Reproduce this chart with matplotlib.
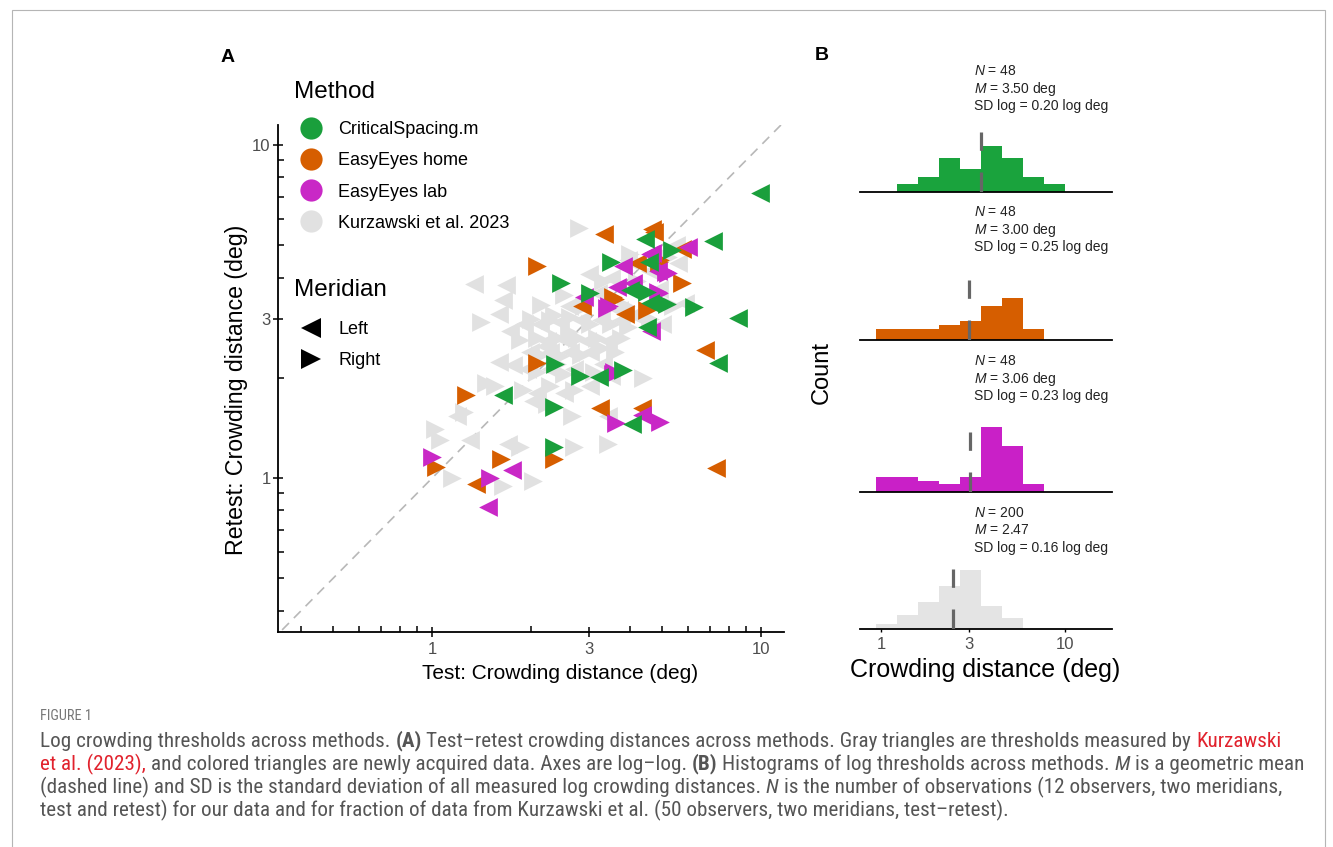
import numpy as np
import matplotlib
matplotlib.use("Agg")
import matplotlib.pyplot as plt
from matplotlib import font_manager
from matplotlib.lines import Line2D
from matplotlib.patches import Rectangle
from matplotlib.ticker import FixedLocator, NullFormatter, FixedFormatter

# ----------------------------------------------------------------- data
methods = ["CriticalSpacing.m", "EasyEyes home", "EasyEyes lab", "Kurzawski et al. 2023"]
method_colors = ["#1a9f3c", "#d65e00", "#c928c6", "#e1e1e1"]
meridians = ["Left", "Right"]

# CriticalSpacing.m : test, retest, meridian
cs_test = [9.90, 7.13, 4.45, 5.37, 3.51, 4.56, 2.47, 3.02, 3.99, 4.50, 5.17, 6.27,
           8.50, 4.50, 7.40, 2.37, 3.80, 2.81, 3.22, 1.64, 2.34, 4.05, 2.34, 4.60]
cs_retest = [7.20, 5.17, 5.23, 4.86, 4.47, 4.45, 3.85, 3.60, 3.68, 3.62, 3.34, 3.27,
             3.03, 2.85, 2.21, 2.20, 2.11, 2.03, 2.01, 1.78, 1.63, 1.45, 1.24, 3.36]
cs_side = ["L", "L", "L", "R", "R", "L", "R", "R", "L", "R", "R", "R",
           "L", "L", "L", "R", "R", "R", "L", "L", "R", "L", "R", "L"]

# EasyEyes home
home_test = [3.34, 4.72, 2.08, 5.75, 4.93, 4.20, 5.74, 2.85, 3.85, 3.55, 4.50, 6.77,
             2.08, 1.27, 3.23, 4.36, 1.62, 2.35, 1.03, 1.36, 7.30, 4.65, 4.90, 3.60]
home_retest = [5.42, 5.50, 4.34, 4.88, 4.51, 4.42, 3.85, 3.28, 3.12, 3.50, 3.20, 2.43,
               2.22, 1.78, 1.62, 1.62, 1.14, 1.14, 1.08, 0.96, 1.07, 5.60, 4.45, 3.45]
home_side = ["L", "L", "R", "L", "R", "L", "R", "L", "L", "R", "R", "L",
             "R", "R", "L", "L", "R", "R", "R", "L", "L", "L", "R", "R"]

# EasyEyes lab
lab_test = [6.02, 4.65, 3.80, 4.85, 5.20, 3.65, 2.90, 3.40, 4.90, 4.08, 4.64, 3.58,
            4.35, 3.63, 4.93, 1.00, 1.75, 1.50, 1.48, 4.60, 5.15, 4.85, 3.45, 3.55]
lab_retest = [4.93, 4.74, 4.34, 4.20, 4.12, 3.74, 3.50, 3.24, 3.59, 3.85, 2.77, 2.08,
              1.55, 1.46, 1.47, 1.16, 1.06, 1.00, 0.82, 4.70, 4.15, 3.62, 3.28, 2.05]
lab_side = ["L", "L", "L", "L", "R", "L", "L", "R", "R", "L", "L", "R",
            "L", "R", "R", "R", "L", "R", "L", "L", "R", "R", "R", "R"]

# Kurzawski et al. 2023
kz_test = [2.79, 1.34, 1.68, 1.64, 2.15, 1.60, 1.41, 1.72, 2.51, 3.94, 5.61, 5.41, 5.88,
           2.13, 2.29, 2.45, 2.63, 2.83, 3.03, 3.26, 3.50, 3.75, 3.94,
           2.08, 2.23, 2.40, 2.57, 2.76, 2.96, 3.18, 3.42, 3.75,
           1.98, 2.13, 2.29, 2.45, 2.63, 2.83, 3.03, 3.26,
           1.94, 2.08, 2.29, 2.51, 2.70, 3.11, 3.50,
           1.89, 2.08, 2.29, 2.51, 2.70, 3.03,
           1.76, 1.60, 4.38, 1.46, 1.55, 2.03, 2.23,
           1.25, 1.19, 2.67, 3.42,
           1.02, 1.06, 1.30, 1.70, 1.85, 2.70, 3.42,
           1.15, 1.64, 2.03,
           3.50, 4.20, 4.60, 3.90, 4.90, 5.20, 3.20, 2.90, 4.10, 4.60, 5.00, 3.30, 3.00,
           4.00, 5.50, 3.70, 2.60, 2.35, 1.90, 1.85, 2.00, 3.30, 3.60, 2.40, 2.20, 2.60]
kz_retest = [5.66, 3.83, 3.79, 3.42, 3.32, 3.12, 2.94, 2.77, 3.56, 4.53, 4.43, 3.28, 3.36,
             2.91, 2.98, 2.94, 3.05, 2.98, 2.91, 2.98, 2.91, 2.98, 2.84,
             2.64, 2.58, 2.64, 2.58, 2.64, 2.58, 2.64, 2.58, 2.64,
             2.40, 2.34, 2.40, 2.32, 2.40, 2.34, 2.40, 2.46,
             2.13, 2.08, 2.13, 2.05, 2.13, 2.08, 2.03,
             1.84, 1.80, 1.89, 1.80, 1.84, 1.89,
             2.18, 2.23, 2.00, 1.93, 1.89, 1.71, 1.67,
             1.58, 1.54, 1.54, 1.54,
             1.40, 1.30, 1.30, 1.27, 1.24, 1.24, 1.27,
             1.00, 0.95, 0.98,
             4.00, 3.90, 4.20, 3.30, 3.70, 4.60, 3.60, 3.30, 3.10, 3.00, 2.90, 3.90, 4.10,
             4.70, 5.00, 3.20, 3.30, 3.10, 2.90, 2.60, 3.00, 2.20, 2.40, 2.20, 2.50, 2.75]
kz_side = ["R", "L", "L", "L", "R", "L", "R", "L", "R", "L", "L", "R", "L",
           "L", "R", "L", "R", "L", "R", "L", "R", "L", "R",
           "R", "L", "R", "L", "R", "L", "R", "L", "R",
           "L", "R", "L", "R", "L", "R", "L", "R",
           "L", "R", "L", "R", "L", "R", "L",
           "R", "L", "R", "L", "R", "L",
           "L", "L", "R", "R", "R", "L", "R",
           "R", "L", "R", "L",
           "R", "R", "L", "L", "R", "R", "R",
           "R", "R", "R",
           "L", "R", "L", "R", "L", "R", "L", "R", "L", "R", "L", "R", "L",
           "R", "L", "L", "L", "R", "L", "R", "R", "L", "R", "R", "L", "R"]

# Panel B histograms (log10 bin edges, counts per bin)
hist_edges_log = [-0.028, 0.086, 0.200, 0.315, 0.429, 0.543, 0.657, 0.772, 0.886, 1.000, 1.114]
cs_counts = [0, 2, 4, 9, 6, 12, 9, 4, 2, 0]
home_counts = [3, 3, 3, 4, 5, 9, 11, 3, 0, 0]
lab_counts = [4, 4, 3, 2, 4, 17, 12, 2, 0, 0]
kz_counts = [6, 15, 30, 47, 65, 25, 12, 0, 0, 0]
hist_N = [48, 48, 48, 200]
hist_M = [3.50, 3.00, 3.06, 2.47]
hist_M_text = ["3.50 deg", "3.00 deg", "3.06 deg", "2.47"]
hist_SD = ["0.20", "0.25", "0.23", "0.16"]

axis_ticks = [1, 3, 10]
axis_tick_labels = ["1", "3", "10"]
minor_ticks = [0.4, 0.5, 0.6, 0.7, 0.8, 0.9, 2, 4, 5, 6, 7, 8, 9]

# ----------------------------------------------------------------- style
plt.rcParams["font.family"] = ["Liberation Sans", "DejaVu Sans"]
plt.rcParams["mathtext.fontset"] = "custom"
plt.rcParams["mathtext.rm"] = "Liberation Sans"
plt.rcParams["mathtext.it"] = "Liberation Sans:italic"
plt.rcParams["mathtext.bf"] = "Liberation Sans:bold"
plt.rcParams["lines.scale_dashes"] = False

W, H = 1333, 847
fig = plt.figure(figsize=(W / 100, H / 100), dpi=100)


def fx(px):
    return px / W


def fy(py):
    return 1 - py / H


TICK_GRAY = "#4d4d4d"

# ----------------------------------------------------------------- panel A
axA = fig.add_axes([fx(278), fy(632), fx(784) - fx(278), fy(125) - fy(632)])
axA.set_xscale("log")
axA.set_yscale("log")
axA.set_xlim(0.34, 11.75)
axA.set_ylim(0.345, 11.5)
for s in ["top", "right"]:
    axA.spines[s].set_visible(False)
for s in ["left", "bottom"]:
    axA.spines[s].set_linewidth(1.3)
for axis in (axA.xaxis, axA.yaxis):
    axis.set_major_locator(FixedLocator(axis_ticks))
    axis.set_major_formatter(FixedFormatter(axis_tick_labels))
    axis.set_minor_locator(FixedLocator(minor_ticks))
    axis.set_minor_formatter(NullFormatter())
axA.tick_params(which="major", direction="inout", length=6.5, width=1.1,
                labelsize=12, labelcolor=TICK_GRAY)
axA.tick_params(which="minor", direction="in", length=4.3, width=1.1)
axA.tick_params(axis="x", which="major", pad=4)
axA.tick_params(axis="y", which="major", pad=2)

lo, hi = 0.35, 11.6
axA.plot([lo, hi], [lo, hi], ls=(0, (7, 5)), color="#b8b8b8", lw=1.2, zorder=1)

groups = [
    (kz_test, kz_retest, kz_side, method_colors[3]),
    (home_test, home_retest, home_side, method_colors[1]),
    (lab_test, lab_retest, lab_side, method_colors[2]),
    (cs_test, cs_retest, cs_side, method_colors[0]),
]
z = 2
for xs, ys, sides, col in groups:
    xs = np.array(xs)
    ys = np.array(ys)
    sides = np.array(sides)
    for side, mk in (("L", "<"), ("R", ">")):
        m = sides == side
        axA.scatter(xs[m], ys[m], marker=mk, s=13.5 ** 2, color=col,
                    linewidths=0, zorder=z, clip_on=False)
    z += 1

fig.text(fx(560), fy(673), "Test: Crowding distance (deg)", fontsize=15,
         ha="center", va="center")
fig.text(fx(237), fy(390), "Retest: Crowding distance (deg)", fontsize=16.7,
         ha="center", va="center", rotation=90)

# legends (titles drawn as separate text for exact spacing)
fig.text(fx(294), fy(92), "Method", fontsize=17.5, ha="left", va="center")
fig.text(fx(294), fy(290), "Meridian", fontsize=17.5, ha="left", va="center")
h_method = [Line2D([], [], ls="", marker="o", ms=16, color=c, mew=0) for c in method_colors]
leg1 = axA.legend(h_method, methods, loc="upper left",
                  bbox_to_anchor=(fx(294), fy(121)), bbox_transform=fig.transFigure,
                  frameon=False, fontsize=13, handlelength=1.9,
                  handletextpad=0.55, labelspacing=0.79, borderpad=0, borderaxespad=0)
axA.add_artist(leg1)
h_mer = [Line2D([], [], ls="", marker=mk, ms=14, color="black", mew=0) for mk in ("<", ">")]
axA.legend(h_mer, meridians, loc="upper left",
           bbox_to_anchor=(fx(294), fy(321)), bbox_transform=fig.transFigure,
           frameon=False, fontsize=13, handlelength=1.9,
           handletextpad=0.55, labelspacing=0.79, borderpad=0, borderaxespad=0)

fig.text(fx(228), fy(57), "A", fontsize=14, fontweight="bold", ha="center", va="center")
fig.text(fx(822), fy(56), "B", fontsize=14, fontweight="bold", ha="center", va="center")

# ----------------------------------------------------------------- panel B
hist_counts = [cs_counts, home_counts, lab_counts, kz_counts]
hist_colors = ["#1aa33d", "#d65e00", "#c920c7", "#e4e4e4"]
baselines = [192, 340, 492, 629]
text_tops = [71, 212, 361, 513]
PX_PER_UNIT = 183.0
panel_h = 60
edges = 10 ** np.array(hist_edges_log)
xl0, xl1 = 10 ** ((860 - 881) / 184), 10 ** ((1112 - 881) / 184)

for i in range(4):
    b = baselines[i]
    ax = fig.add_axes([fx(860), fy(b), fx(1112) - fx(860), panel_h / H])
    ax.set_xscale("log")
    ax.set_xlim(xl0, xl1)
    ax.set_ylim(0, panel_h / PX_PER_UNIT)
    props = np.array(hist_counts[i]) / hist_N[i]
    ax.stairs(props, edges, fill=True, color=hist_colors[i], lw=0, clip_on=False, zorder=2)
    ax.axvline(hist_M[i], ymin=0, ymax=1, color="#666666", lw=2.3,
               ls=(0, (14.4, 15.6)), zorder=3, solid_capstyle="butt")
    for s in ["top", "right", "left"]:
        ax.spines[s].set_visible(False)
    ax.spines["bottom"].set_linewidth(1.3)
    ax.set_yticks([])
    ax.xaxis.set_minor_locator(FixedLocator([]))
    if i == 3:
        ax.xaxis.set_major_locator(FixedLocator(axis_ticks))
        ax.xaxis.set_major_formatter(FixedFormatter(axis_tick_labels))
        ax.tick_params(axis="x", which="major", direction="out", length=2.5, width=1.0,
                       labelsize=12, labelcolor=TICK_GRAY, pad=3)
    else:
        ax.set_xticks([])
    t0 = text_tops[i]
    fig.text(fx(974), fy(t0), "$N$ = %d" % hist_N[i], fontsize=10, color="#222222",
             va="center", ha="left")
    fig.text(fx(974), fy(t0 + 17.5), "$M$ = " + hist_M_text[i], fontsize=10,
             color="#222222", va="center", ha="left")
    fig.text(fx(974), fy(t0 + 35), "SD log = %s log deg" % hist_SD[i], fontsize=10,
             color="#222222", va="center", ha="left")

fig.text(fx(985), fy(670), "Crowding distance (deg)", fontsize=18, ha="center", va="center")
fig.text(fx(822), fy(372), "Count", fontsize=17, ha="center", va="center", rotation=90)

# ----------------------------------------------------------------- frame and caption
fig.add_artist(Rectangle((fx(12), fy(852)), fx(1325) - fx(12), fy(10) - fy(852),
                         transform=fig.transFigure, fill=False, ec="#b5b5b5", lw=0.8))


def pick_family():
    for fam in ["Liberation Sans Narrow", "Roboto Condensed", "Open Sans Condensed",
                "Ubuntu Condensed", "DejaVu Sans Condensed", "Liberation Sans"]:
        try:
            font_manager.findfont(font_manager.FontProperties(family=fam),
                                  fallback_to_default=False)
            return fam
        except Exception:
            continue
    return "DejaVu Sans"


cap_family = pick_family()
CAP_GRAY = "#555555"
CAP_RED = "#e1222d"

cap_lines = [
    [("Log crowding thresholds across methods. ", ""), ("(A)", "b"),
     (" Test\u2013retest crowding distances across methods. Gray triangles are thresholds measured by ", ""),
     ("Kurzawski", "r")],
    [("et al. (2023),", "r"),
     (" and colored triangles are newly acquired data. Axes are log\u2013log. ", ""), ("(B)", "b"),
     (" Histograms of log thresholds across methods. ", ""), ("M", "i"),
     (" is a geometric mean", "")],
    [("(dashed line) and SD is the standard deviation of all measured log crowding distances. ", ""),
     ("N", "i"), (" is the number of observations (12 observers, two meridians,", "")],
    [("test and retest) for our data and for fraction of data from Kurzawski et al. (50 observers, two meridians, test\u2013retest).", "")],
]
cap_y = [741, 764, 787, 810]

renderer = fig.canvas.get_renderer()


def text_w(s, size, weight="normal", style="normal"):
    t = fig.text(0, 0, s, fontsize=size, family=cap_family, fontweight=weight, fontstyle=style)
    w = t.get_window_extent(renderer).width
    t.remove()
    return w


def run_width(runs, size):
    sp = text_w("a a", size) - text_w("aa", size)
    total = 0
    for s, st in runs:
        core = s.strip()
        nl = len(s) - len(s.lstrip())
        nr = len(s) - len(s.rstrip())
        total += sp * (nl + nr)
        if core:
            total += text_w(core, size, "bold" if "b" in st else "normal",
                            "italic" if "i" in st else "normal")
    return total


base_size = 12
w0 = run_width(cap_lines[0], base_size)
cap_size = min(base_size * (1277 - 40) / w0, 16.5)


def draw_runs(x, y, runs, size):
    sp = text_w("a a", size) - text_w("aa", size)
    for s, st in runs:
        core = s.strip()
        nl = len(s) - len(s.lstrip())
        nr = len(s) - len(s.rstrip())
        x += sp * nl
        if core:
            t = fig.text(fx(x), fy(y), core, fontsize=size, family=cap_family,
                         fontweight="bold" if "b" in st else "normal",
                         fontstyle="italic" if "i" in st else "normal",
                         color=CAP_RED if "r" in st else CAP_GRAY, va="center", ha="left")
            x += t.get_window_extent(renderer).width
        x += sp * nr


for runs, y in zip(cap_lines, cap_y):
    draw_runs(40, y, runs, cap_size)

fig.text(fx(40), fy(716), "FIGURE 1", fontsize=cap_size * 0.68, family=cap_family,
         color="#777777", va="center", ha="left")

fig.savefig("out.png", dpi=100)
